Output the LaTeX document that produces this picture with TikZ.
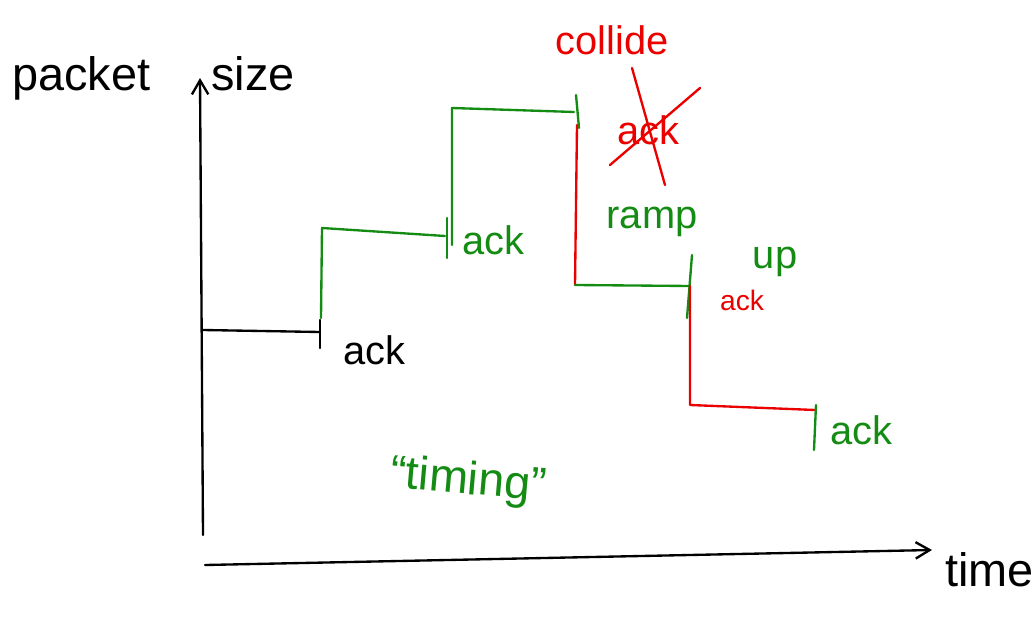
\documentclass[tikz,border=0pt]{standalone}
\usepackage{fontspec}
\setmainfont{Liberation Sans}
\usetikzlibrary{arrows.meta}
\definecolor{pgreen}{RGB}{20,140,20}
\definecolor{pred}{RGB}{235,0,0}
\tikzset{
  pen/.style={line width=2pt, line cap=round, line join=round},
  big/.style={font=\fontsize{40}{44}\selectfont, inner sep=0pt},
  mid/.style={font=\fontsize{34}{40}\selectfont, inner sep=0pt},
  small/.style={font=\fontsize{24}{28}\selectfont, inner sep=0pt},
}
\begin{document}
\begin{tikzpicture}[x=0.03cm, y=-0.03cm]
\useasboundingbox (0,0) rectangle (1034,620);
% axes
\coordinate (yb) at (203,535);
\coordinate (yt) at (200,78);
\coordinate (xl) at (205,565);
\coordinate (xr) at (932,550);
\draw[pen, -{Straight Barb[length=12pt,width=14pt]}] (yb) -- (yt);
\draw[pen, -{Straight Barb[length=12pt,width=14pt]}] (xl) -- (xr);
\node[big, anchor=west] (ylab) at (12,78) {packet\hspace{52pt}size};
\node[big, anchor=west] (xlab) at (945,570) {time};
% black step
\coordinate (b0) at (203,330);
\coordinate (b1) at (320,332);
\draw[pen] (b0) -- (b1);
\draw[pen] (320,320) -- (320,348);
\node[mid, anchor=west] (ack1) at (343,350) {ack};
% green steps
\coordinate (g0) at (321,318);
\coordinate (g1) at (322,228);
\coordinate (g2) at (445,236);
\draw[pgreen, pen] (g0) -- (g1) -- (g2);
\draw[pgreen, pen] (447,218) -- (447,258);
\node[mid, anchor=west, text=pgreen] (ack2) at (462,240) {ack};
\coordinate (h0) at (452,245);
\coordinate (h1) at (452,108);
\coordinate (h2) at (574,112);
\draw[pgreen, pen] (h0) -- (h1) -- (h2);
\draw[pgreen, pen] (576,95) -- (579,128);
% red drop
\coordinate (r0) at (577,125);
\coordinate (r1) at (575,285);
\draw[pred, pen] (r0) -- (r1);
\coordinate (k1) at (690,286);
\draw[pgreen, pen] (r1) -- (k1);
\draw[pgreen, pen] (687,318) -- (692,255);
\coordinate (m1) at (690,405);
\coordinate (m2) at (815,410);
\draw[pred, pen] (k1) -- (m1) -- (m2);
\draw[pgreen, pen] (816,405) -- (814,450);
\node[mid, anchor=west, text=pgreen] (ack4) at (830,430) {ack};
% collide
\node[mid, text=pred] (col) at (612,40) {collide};
\node[mid, text=pred] (ackx) at (648,130) {ack};
\draw[pred, pen] (610,165) -- (700,88);
\draw[pred, pen] (632,68) -- (665,185);
\node[small, text=pred] (ack3) at (742,300) {ack};
% ramp up
\node[mid, text=pgreen] (ramp) at (652,222) {ramp};
\node[mid, text=pgreen] (up) at (775,262) {up};
% timing
\node[big, text=pgreen, rotate=-5] (tim) at (468,482) {``timing''};
\end{tikzpicture}
\end{document}
